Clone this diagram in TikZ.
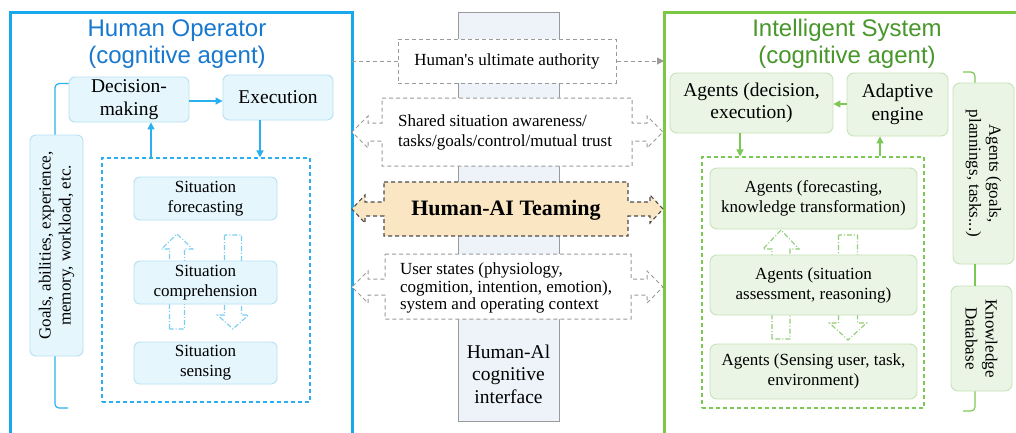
\documentclass[tikz,border=0pt]{standalone}
\usepackage{fontspec}
\setmainfont{Liberation Serif}
\newfontfamily\titlefont{Liberation Sans}
\usetikzlibrary{arrows.meta}
\definecolor{pblue}{HTML}{18A8EE}
\definecolor{tblue}{HTML}{1778CF}
\definecolor{bfill}{HTML}{E5F6FD}
\definecolor{bbd}{HTML}{B6E0F5}
\definecolor{barr}{HTML}{2AB0EE}
\definecolor{bhol}{HTML}{78CDF2}
\definecolor{pgreen}{HTML}{7AC843}
\definecolor{tgreen}{HTML}{48972B}
\definecolor{gfill}{HTML}{EAF5E5}
\definecolor{gbd}{HTML}{C6E3B9}
\definecolor{garr}{HTML}{7CC855}
\definecolor{ghol}{HTML}{92CC78}
\definecolor{midgray}{HTML}{9A9A9A}
\definecolor{ifill}{HTML}{EEF3F9}
\definecolor{teamfill}{HTML}{FAE6C2}
\newcommand{\hollowArrow}[7]{%
  \draw[#1] ({#2-#6},#5) -- ({#2-#6},#4) -- ({#2-#7},#4) -- (#2,#3) -- ({#2+#7},#4) -- ({#2+#6},#4) -- ({#2+#6},#5) -- cycle;}
\newcommand{\dblArrow}[9]{%
  \draw[#1] (#3,#5) -- (#4,#5) -- (#4,{#2-#7}) -- ({663-#9},{#2-#7}) -- ({663-#9},{#2-#8}) -- (663,#2) -- ({663-#9},{#2+#8}) -- ({663-#9},{#2+#7}) -- (#4,{#2+#7}) -- (#4,#6) -- (#3,#6) -- (#3,{#2+#7}) -- ({352+#9},{#2+#7}) -- ({352+#9},{#2+#8}) -- (352,#2) -- ({352+#9},{#2-#8}) -- ({352+#9},{#2-#7}) -- (#3,{#2-#7}) -- cycle;}
\begin{document}
\begin{tikzpicture}[x=1pt,y=-1pt,
  mainfont/.style={font=\fontsize{17}{20}\selectfont},
  bigfont/.style={font=\fontsize{19.5}{22.5}\selectfont},
  titlestyle/.style={font=\titlefont\fontsize{24}{27}\selectfont, align=center},
  bbox/.style={draw=bbd, fill=bfill, rounded corners=6pt, line width=0.9pt, align=center, inner sep=0pt},
  gbox/.style={draw=gbd, fill=gfill, rounded corners=7pt, line width=0.9pt, align=center, inner sep=0pt},
  barrow/.style={draw=barr, line width=1.3pt, -{Triangle[length=7pt,width=7pt]}},
  garrow/.style={draw=garr, line width=1.3pt, -{Triangle[length=7pt,width=7pt]}},
  bline/.style={draw=barr, line width=1.2pt, rounded corners=4pt},
  gline/.style={draw=garr, line width=1.2pt, rounded corners=4pt},
  bdash/.style={draw=barr, line width=1.1pt, dash pattern=on 4pt off 3pt, inner sep=0pt},
  gdash/.style={draw=garr, line width=1.1pt, dash pattern=on 4pt off 3pt, inner sep=0pt},
  bhollow/.style={draw=bhol, fill=white, line width=1.1pt, dash pattern=on 5pt off 2pt on 1pt off 2pt},
  ghollow/.style={draw=ghol, fill=white, line width=1.1pt, dash pattern=on 5pt off 2pt on 1pt off 2pt},
  graydash/.style={draw=midgray, line width=1pt, dash pattern=on 4pt off 3pt},
  panelstyle/.style={line width=3pt, inner sep=0pt, outer sep=0pt}
]
\useasboundingbox (0,0) rectangle (1016,432);
\clip (0,0) rectangle (1016,432);
\fill[white] (0,0) rectangle (1016,432);

% panels
\node[panelstyle, draw=pblue, minimum width=342, minimum height=438] (panelL) at (181,231) {};
\node[panelstyle, draw=pgreen, minimum width=366, minimum height=438] (panelR) at (847,231) {};
\node[titlestyle, text=tblue] (titleL) at (177,44) {Human Operator\\(cognitive agent)};
\node[titlestyle, text=tgreen] (titleR) at (847,44) {Intelligent System\\(cognitive agent)};

% interface column
\node[draw=midgray, fill=ifill, line width=1pt, minimum width=101, minimum height=409, inner sep=0pt] (iface) at (508.5,216.5) {};
\node[font=\fontsize{19.5}{22.5}\selectfont, align=center] (ifacetext) at (508.5,374) {Human-Al\\cognitive\\interface};

% authority
\node[graydash, fill=white, minimum width=218, minimum height=44, mainfont, inner sep=0pt] (auth) at (507,61) {Human\textquotesingle s ultimate authority};
\draw[graydash] (panelL.east |- auth.west) -- (auth.west);
\draw[graydash, -{Triangle[length=7pt,width=7pt]}, midgray] (auth.east) -- (panelR.west |- auth.east);

% double arrows
\dblArrow{graydash, fill=white}{132}{382}{632}{98}{166}{9}{16}{16}
\node[mainfont, align=left] (shared) at (505,132) {Shared situation awareness/\\tasks/goals/control/mutual trust};
\dblArrow{draw=black!70, line width=1.1pt, dash pattern=on 4pt off 3pt, fill=teamfill}{209}{384}{628}{182}{236}{7}{14}{13}
\node[font=\bfseries\fontsize{22}{24}\selectfont] (team) at (506,210) {Human-AI Teaming};
\dblArrow{graydash, fill=white}{287}{385}{631}{254}{319}{8}{16}{16}
\node[font=\fontsize{17}{17.5}\selectfont, align=left] (user) at (506,288) {User states (physiology,\\cogmition, intention, emotion),\\system and operating context};

% ---------- left panel ----------
\node[bbox, bigfont, minimum width=120, minimum height=45] (dec) at (129,99.5) {Decision-\\making};
\node[bbox, bigfont, minimum width=110, minimum height=45] (exe) at (278,97.5) {Execution};
\node[bdash, minimum width=208, minimum height=244] (dboxL) at (206,280) {};
\hollowArrow{bhollow}{177}{234}{249}{329}{7.5}{15.5}
\hollowArrow{bhollow}{233}{329}{315}{235}{8.5}{15.5}
\node[bbox, mainfont, minimum width=143, minimum height=43] (sf) at (205.5,198.5) {Situation\\forecasting};
\node[bbox, mainfont, minimum width=143, minimum height=43] (sc) at (205.5,282.5) {Situation\\comprehension};
\node[bbox, mainfont, minimum width=143, minimum height=42] (ss) at (205.5,363) {Situation\\sensing};
\node[bbox, minimum width=53, minimum height=221] (goals) at (56.5,245.5) {};
\node[mainfont, rotate=90, align=center] (goalstext) at (goals.center) {Goals, abilities, experience,\\memory, workload, etc.};
\draw[barrow] (dec.east |- 0,101) -- (exe.west |- 0,101);
\draw[barrow] ([xshift=-18pt]exe.south) -- ([xshift=-18pt]exe.south |- dboxL.north);
\draw[barrow] ([xshift=22pt]dec.south |- dboxL.north) -- ([xshift=22pt]dec.south);
\coordinate (brLb) at (68,408);
\draw[bline] ([xshift=-1.5pt]goals.north) |- ([yshift=-7pt]dec.north west);
\draw[bline] ([xshift=-1.5pt]goals.south) |- (brLb);

% ---------- right panel ----------
\node[gbox, bigfont, minimum width=163, minimum height=60] (adec) at (751.5,103) {Agents (decision,\\execution)};
\node[gbox, bigfont, minimum width=101, minimum height=63] (adapt) at (897.5,104.5) {Adaptive\\engine};
\node[gdash, minimum width=222, minimum height=251] (dboxR) at (813,282.5) {};
\hollowArrow{ghollow}{781}{230}{249}{339}{9}{18}
\hollowArrow{ghollow}{848}{340}{323}{235}{9.5}{18.5}
\node[gbox, mainfont, minimum width=207, minimum height=61] (afore) at (813.5,198.5) {Agents (forecasting,\\knowledge transformation)};
\node[gbox, mainfont, minimum width=207, minimum height=60] (asit) at (813.5,285) {Agents (situation\\assessment, reasoning)};
\node[gbox, mainfont, minimum width=207, minimum height=55] (asens) at (813.5,371.5) {Agents (Sensing user, task,\\environment)};
\node[gbox, minimum width=61, minimum height=181] (agoals) at (983.5,173.5) {};
\node[mainfont, rotate=-90, align=center] (agoalstext) at (agoals.center) {Agents (goals,\\plannings, tasks...)};
\node[gbox, minimum width=61, minimum height=105] (kdb) at (981.5,338.5) {};
\node[mainfont, rotate=-90, align=center] (kdbtext) at (kdb.center) {Knowledge\\Database};
\draw[garrow] (adapt.west |- 0,104) -- (adec.east |- 0,104);
\draw[garrow] ([xshift=-11.5pt]adec.south) -- ([xshift=-11.5pt]adec.south |- dboxR.north);
\draw[garrow] ([xshift=-17.5pt]adapt.south |- dboxR.north) -- ([xshift=-17.5pt]adapt.south);
\coordinate (brRt) at (963,72);
\coordinate (brRb) at (963,411);
\draw[gline] (brRt) -| ([xshift=-8.5pt]agoals.north);
\draw[gline] ([xshift=-8.5pt]agoals.south) -- ([xshift=-8.5pt]agoals.south |- kdb.north);
\draw[gline] ([xshift=-6.5pt]kdb.south) |- (brRb);
\end{tikzpicture}
\end{document}
